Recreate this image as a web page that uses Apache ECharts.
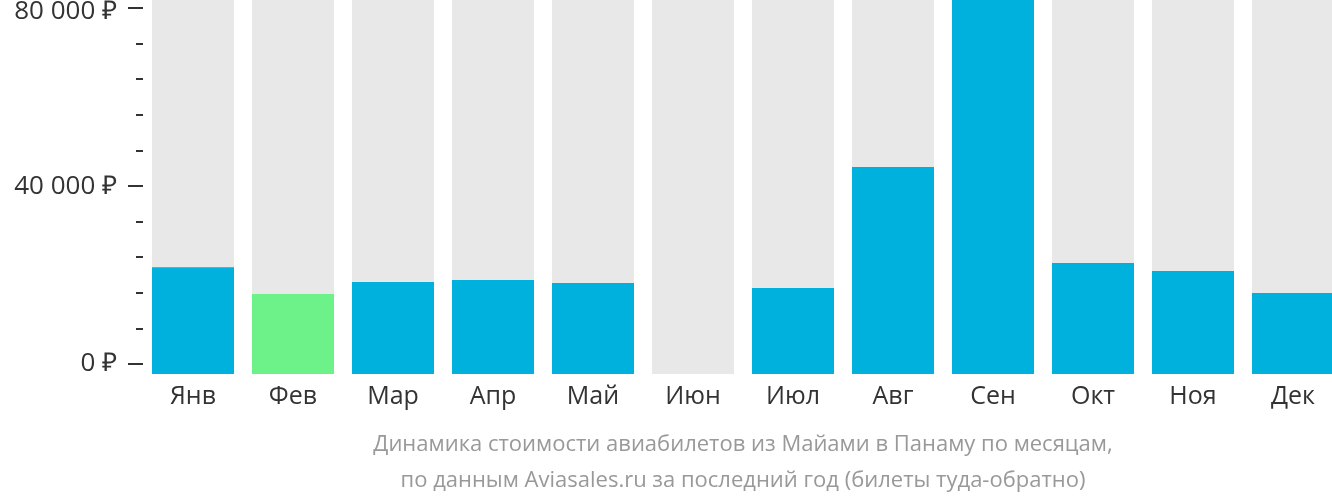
<!DOCTYPE html>
<html>
<head>
<meta charset="utf-8">
<script src="https://cdn.jsdelivr.net/npm/echarts@6/dist/echarts.min.js"></script>
<style>html,body{margin:0;padding:0;background:#fff}#c{width:1332px;height:502px}</style>
</head>
<body>
<div id="c"></div>
<script>
var months = ['Янв','Фев','Мар','Апр','Май','Июн','Июл','Авг','Сен','Окт','Ноя','Дек'];
var prices = [24000, 18000, 20670, 21120, 20450, 0, 19330, 46520, 90000, 24940, 23150, 18200];
var highlightIndex = 1;
var tickLabels = [0, 40000, 80000];
var captionLines = ['Динамика стоимости авиабилетов из Майами в Панаму по месяцам,', 'по данным Aviasales.ru за последний год (билеты туда-обратно)'];

var chart = echarts.init(document.getElementById('c'));
chart.setOption({
  animation: false,
  grid: [
    {left: 143, width: 1200, top: 0, height: 374, outerBoundsMode: 'none', containLabel: false},
    {left: 143, width: 1200, top: 8, height: 356, outerBoundsMode: 'none', containLabel: false}
  ],
  xAxis: [
    {gridIndex: 0, type: 'category', data: months,
      axisLine: {show: false}, axisTick: {show: false},
      axisLabel: {color: '#333', fontSize: 25, fontFamily: 'Open Sans', margin: 10}},
    {gridIndex: 1, type: 'category', data: months, show: false}
  ],
  yAxis: [
    {gridIndex: 0, type: 'value', min: 0, max: 84045, show: false},
    {gridIndex: 1, type: 'value', min: 0, max: 80000, interval: 40000,
      axisLine: {show: false}, splitLine: {show: false},
      axisTick: {show: true, length: 15, lineStyle: {color: '#333', width: 2}},
      minorTick: {show: true, splitNumber: 5, length: 7, lineStyle: {color: '#333', width: 2}},
      axisLabel: {color: '#333', fontSize: 26, fontFamily: 'Open Sans', margin: 26,
        rich: {
          top: {color: '#333', fontSize: 26, fontFamily: 'Open Sans', padding: [7, 0, 0, 0]},
          n: {color: '#333', fontSize: 26, fontFamily: 'Open Sans', padding: [2, 0, 0, 0]}
        },
        formatter: function (v) {
          if (tickLabels.indexOf(v) < 0) return '';
          var s = (v === 0 ? '0' : String(v).replace(/\B(?=(\d{3})+(?!\d))/g, ' ')) + ' ₽';
          return v === 80000 ? '{top|' + s + '}' : (v === 40000 ? '{n|' + s + '}' : s);
        }}}
  ],
  series: [{
    type: 'bar', xAxisIndex: 0, yAxisIndex: 0,
    barWidth: 82,
    showBackground: true,
    backgroundStyle: {color: '#e8e8e8'},
    data: prices.map(function (v, i) {
      return {value: v, itemStyle: {color: i === highlightIndex ? '#6df28a' : '#00b1dd'}};
    })
  }],
  graphic: captionLines.map(function (t, i) {
    return {type: 'text', x: 743, y: 445 + i * 36,
      style: {text: t, fill: '#999', fontSize: 22, fontFamily: 'Open Sans', align: 'center', verticalAlign: 'middle'}};
  })
});
</script>
</body>
</html>
